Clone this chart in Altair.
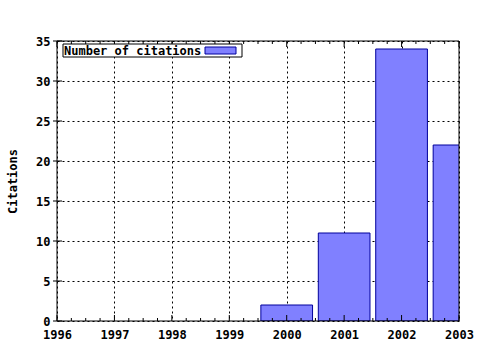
import altair as alt
import pandas as pd

# ---- data ----
years = [2000, 2001, 2002, 2003]
citations = [2, 11, 34, 22]
x_tick_values = [1996, 1997, 1998, 1999, 2000, 2001, 2002, 2003]
y_tick_values = [0, 5, 10, 15, 20, 25, 30, 35]
x_minor_values = [y + q for y in range(1996, 2003) for q in (0.25, 0.5, 0.75)]
bar_half = 0.45

W, H = 402, 280
FONT = "DejaVu Sans Mono"
FILL = "#8080ff"
EDGE = "#00009c"

df = pd.DataFrame({"year": years, "citations": citations})
df["x0"] = df["year"] - bar_half
df["x1"] = df["year"] + bar_half

xscale = alt.Scale(domain=[1996, 2003], nice=False, zero=False)
yscale = alt.Scale(domain=[0, 35], nice=False)

x_axis = alt.Axis(values=x_tick_values, format="d", grid=True, gridDash=[2, 3],
                  gridColor="black", gridOpacity=1, ticks=False, domain=False,
                  labelFont=FONT, labelFontSize=12, labelFontWeight="bold",
                  labelColor="black", labelPadding=8, labelFlush=False, title=None)
y_axis = alt.Axis(values=y_tick_values, grid=True, gridDash=[2, 3],
                  gridColor="black", gridOpacity=1, ticks=False, domain=False,
                  labelFont=FONT, labelFontSize=12, labelFontWeight="bold",
                  labelColor="black", labelPadding=7,
                  title="Citations", titleFont=FONT, titleFontSize=12,
                  titleFontWeight="bold", titleColor="black", titlePadding=16)

bars = alt.Chart(df).mark_bar(clip=True, fill=FILL, stroke=EDGE, strokeWidth=1).encode(
    x=alt.X("x0:Q", scale=xscale, axis=x_axis),
    x2="x1",
    y=alt.Y("citations:Q", scale=yscale, axis=y_axis),
    y2=alt.datum(0),
)

xt = pd.DataFrame({"x0": x_tick_values})
xm = pd.DataFrame({"x0": x_minor_values})
yt = pd.DataFrame({"citations": y_tick_values})

tick_x = alt.X("x0:Q", scale=xscale, axis=x_axis)
tick_y = alt.Y("citations:Q", scale=yscale, axis=y_axis)

bottom_major = alt.Chart(xt).mark_rule(color="black").encode(
    x=tick_x, y=alt.value(H), y2=alt.value(H - 6))
top_major = alt.Chart(xt).mark_rule(color="black").encode(
    x=tick_x, y=alt.value(0), y2=alt.value(6))
bottom_minor = alt.Chart(xm).mark_rule(color="black").encode(
    x=tick_x, y=alt.value(H), y2=alt.value(H - 3))
top_minor = alt.Chart(xm).mark_rule(color="black").encode(
    x=tick_x, y=alt.value(0), y2=alt.value(3))
left_major = alt.Chart(yt).mark_rule(color="black").encode(
    y=tick_y, x=alt.value(-4), x2=alt.value(5))

border = alt.Chart(pd.DataFrame({"a": [0]})).mark_rect(
    fill=None, stroke="black", strokeWidth=1).encode(
    x=alt.value(0), x2=alt.value(W), y=alt.value(0), y2=alt.value(H))

# legend (drawn in pixel space)
leg = pd.DataFrame({"label": ["Number of citations"]})
leg_box = alt.Chart(leg).mark_rect(fill="white", stroke="black", strokeWidth=1).encode(
    x=alt.value(6), x2=alt.value(185), y=alt.value(3), y2=alt.value(16))
leg_text = alt.Chart(leg).mark_text(
    font=FONT, fontSize=12, fontWeight="bold", color="black",
    align="left", baseline="middle").encode(
    text="label:N", x=alt.value(7), y=alt.value(10))
leg_swatch = alt.Chart(leg).mark_rect(fill=FILL, stroke=EDGE, strokeWidth=1).encode(
    x=alt.value(148), x2=alt.value(179), y=alt.value(6), y2=alt.value(13))

chart = alt.layer(
    bars, bottom_minor, top_minor, bottom_major, top_major, left_major, border,
    leg_box, leg_text, leg_swatch
).properties(
    width=W, height=H,
    autosize=alt.AutoSizeParams(type="none"),
    padding={"left": 57, "top": 41, "right": 21, "bottom": 29},
    background="white",
).configure_view(stroke=None)

chart.save("out.html", embed_options={"renderer": "svg", "actions": False})
